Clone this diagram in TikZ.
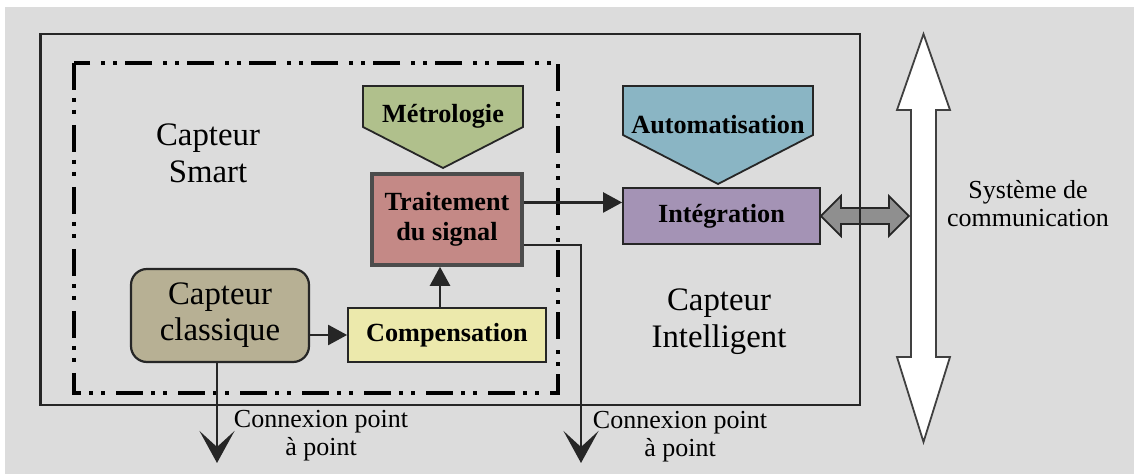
\documentclass[tikz,border=0pt]{standalone}
\usepackage{fontspec}
\setmainfont{Liberation Serif}
\usetikzlibrary{arrows.meta,calc}

\definecolor{bgc}{RGB}{220,220,220}
\definecolor{metroc}{RGB}{176,192,140}
\definecolor{traitc}{RGB}{196,137,134}
\definecolor{autoc}{RGB}{138,181,196}
\definecolor{integc}{RGB}{164,147,181}
\definecolor{classc}{RGB}{183,176,148}
\definecolor{compc}{RGB}{236,233,172}
\definecolor{busgray}{RGB}{143,143,143}

\begin{document}
\begin{tikzpicture}[x=0.5pt,y=-0.5pt,
  box/.style={draw=black!85, line width=0.9pt, inner sep=0pt, align=center,
    font=\fontsize{13.1}{15}\selectfont\bfseries},
  boldtext/.style={inner sep=0pt, align=center, font=\fontsize{13.1}{15}\selectfont\bfseries},
  bigtext/.style={inner sep=0pt, align=center, font=\fontsize{16.4}{18.5}\selectfont},
  note/.style={inner sep=0pt, align=center, font=\fontsize{13}{14}\selectfont},
  outline/.style={draw=black!85, line width=0.9pt},
  conn/.style={draw=black!85, line width=1.2pt, -{Triangle[length=9.5pt,width=10pt]}},
  drop/.style={draw=black!85, line width=1.3pt, -{Stealth[length=16pt,width=17.5pt,inset=8pt]}},
  dashdot/.style={line width=1.8pt,
    dash pattern=on 13.5pt off 4pt on 2pt off 4pt on 2pt off 5.5pt}]

\useasboundingbox (0,0) rectangle (1134,474);
\fill[white] (0,0) rectangle (1134,474);
\fill[bgc] (5,7) rectangle (1134,474);

% smart sensor boundary
\draw[dashdot] (74,63) rectangle (558,393);

% processing blocks
\node[box, fill=traitc, draw=black!70, line width=1.8pt,
      minimum width=75pt, minimum height=45.5pt] (trait) at (447,219.5) {Traitement\\du signal};
\node[box, fill=integc, minimum width=98.5pt, minimum height=28pt] (integ) at (721.5,216) {Intégration};
\node[box, fill=classc, rounded corners=8pt, line width=1.1pt,
      font=\fontsize{16.4}{18}\selectfont,
      minimum width=89pt, minimum height=46.5pt] (cc) at (220,315.5) {Capteur\\classique};
\node[box, fill=compc, minimum width=99pt, minimum height=27pt] (comp) at (447,335) {Compensation};

% pointing labels above the blocks
\draw[outline, fill=metroc] (363,86) -- (523,86) -- (523,127) -- (443,168) -- (363,127) -- cycle;
\node[boldtext] (metro) at (443,116) {Métrologie};
\draw[outline, fill=autoc] (623,86) -- (813,86) -- (813,135) -- (718,184) -- (623,135) -- cycle;
\node[boldtext] (auto) at (718,125) {Automatisation};

% connectors
\coordinate (t1) at ($(trait.north east)!0.32!(trait.south east)$);
\draw[conn] (t1) -- (t1 -| integ.west);
\coordinate (t2) at ($(trait.north east)!0.77!(trait.south east)$);
\coordinate (end2) at (581,463);
\draw[drop] (t2) -| (end2);
\coordinate (end1) at (217,463);
\draw[drop] (cc.south -| end1) -- (end1);
\draw[conn] (cc.east |- comp.west) -- (comp.west);
\coordinate (c1) at ([xshift=-3.5pt]comp.north);
\draw[conn] (c1) -- (c1 |- trait.south);

% link to the bus
\begin{scope}[shift={(integ.east)}]
  \draw[outline, fill=busgray] (0,0) -- (20,-20) -- (20,-8) -- (68,-8) -- (68,-20) -- (88,0)
    -- (68,20) -- (68,8) -- (20,8) -- (20,20) -- cycle;
\end{scope}

% intelligent sensor boundary
\draw[black!85, line width=1.1pt] (40.5,34) rectangle (860,405);

% communication bus
\draw[draw=black!75, line width=0.9pt, fill=white]
  (923.5,34) -- (950,110) -- (936,110) -- (936,357) -- (950,357) -- (923.5,442)
  -- (897,357) -- (911,357) -- (911,110) -- (897,110) -- cycle;

% labels
\node[bigtext] (smart) at (208,153) {Capteur\\Smart};
\node[bigtext] (intel) at (719,322) {Capteur\\Intelligent};
\node[note] (sys) at (1028,204) {Système de\\communication};
\node[note] (cx1) at (321,436) {Connexion point\\à point};
\node[note] (cx2) at (680,437) {Connexion point\\à point};
\end{tikzpicture}
\end{document}
